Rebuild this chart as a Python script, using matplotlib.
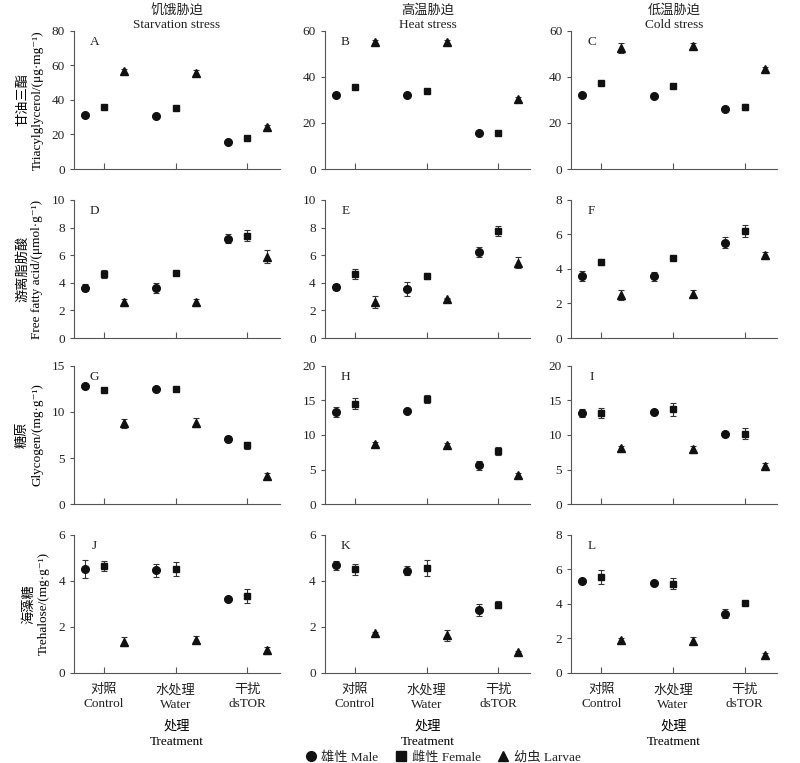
import matplotlib
matplotlib.use("Agg")
import matplotlib.pyplot as plt
from matplotlib.lines import Line2D
import numpy as np

plt.rcParams['font.family'] = ['Liberation Serif', 'Noto Sans CJK SC', 'DejaVu Serif']
plt.rcParams['font.size'] = 9
plt.rcParams['text.color'] = '#222222'
plt.rcParams['axes.edgecolor'] = '#555555'
plt.rcParams['xtick.color'] = '#555555'
plt.rcParams['ytick.color'] = '#555555'
plt.rcParams['xtick.labelcolor'] = '#222222'
plt.rcParams['ytick.labelcolor'] = '#222222'

groups = ['对照\nControl', '水处理\nWater', '干扰\ndsTOR']
stresses = ['饥饿胁迫\nStarvation stress', '高温胁迫\nHeat stress', '低温胁迫\nCold stress']
ylabels = ['甘油三酯\nTriacylglycerol/(μg·mg⁻¹)',
           '游离脂肪酸\nFree fatty acid/(μmol·g⁻¹)',
           '糖原\nGlycogen/(mg·g⁻¹)',
           '海藻糖\nTrehalose/(mg·g⁻¹)']
letters = ['A', 'B', 'C', 'D', 'E', 'F', 'G', 'H', 'I', 'J', 'K', 'L']
ymax = [80, 60, 60, 10, 10, 8, 15, 20, 20, 6, 6, 8]
ystep = [20, 20, 20, 2, 2, 2, 5, 5, 5, 2, 2, 2]

# means per panel: [control, water, dsTOR]
male = [[31.3, 30.6, 15.4], [32.3, 32.3, 15.6], [32.3, 31.9, 26.0],
        [3.63, 3.6, 7.2], [3.68, 3.55, 6.25], [3.6, 3.58, 5.53],
        [12.85, 12.48, 7.04], [13.33, 13.5, 5.6], [13.2, 13.3, 10.1],
        [4.52, 4.46, 3.2], [4.67, 4.44, 2.73], [5.33, 5.24, 3.43]]
male_err = [[0.8, 0.8, 0.7], [0.6, 0.6, 0.6], [0.8, 0.7, 0.9],
            [0.25, 0.35, 0.3], [0.2, 0.5, 0.35], [0.3, 0.25, 0.3],
            [0.2, 0.2, 0.35], [0.7, 0.2, 0.7], [0.6, 0.3, 0.2],
            [0.4, 0.27, 0.08], [0.2, 0.2, 0.25], [0.08, 0.1, 0.25]]
female = [[35.8, 35.2, 17.9], [35.7, 34.1, 15.6], [37.5, 36.0, 27.0],
          [4.65, 4.7, 7.4], [4.65, 4.5, 7.75], [4.4, 4.64, 6.2],
          [12.37, 12.48, 6.37], [14.5, 15.2, 7.7], [13.2, 13.7, 10.2],
          [4.65, 4.53, 3.35], [4.5, 4.55, 2.96], [5.57, 5.18, 4.08]]
female_err = [[0.8, 0.8, 0.8], [0.6, 0.6, 0.6], [0.8, 0.8, 1.3],
              [0.3, 0.1, 0.4], [0.35, 0.2, 0.35], [0.15, 0.05, 0.35],
              [0.2, 0.2, 0.4], [0.8, 0.6, 0.6], [0.7, 1.0, 0.8],
              [0.2, 0.3, 0.3], [0.25, 0.35, 0.15], [0.4, 0.3, 0.05]]
larvae = [[56.5, 55.6, 24.4], [55.1, 55.1, 30.4], [52.6, 53.6, 43.5],
          [2.6, 2.6, 5.9], [2.6, 2.85, 5.45], [2.5, 2.57, 4.78],
          [8.78, 8.85, 3.07], [8.64, 8.5, 4.25], [8.1, 7.95, 5.5],
          [1.35, 1.45, 0.98], [1.72, 1.63, 0.91], [1.9, 1.88, 1.04]]
larvae_err = [[1.5, 1.5, 1.0], [0.8, 0.8, 1.0], [2.0, 1.0, 0.8],
              [0.25, 0.25, 0.45], [0.45, 0.05, 0.4], [0.3, 0.2, 0.2],
              [0.5, 0.5, 0.25], [0.4, 0.3, 0.3], [0.3, 0.5, 0.4],
              [0.2, 0.15, 0.15], [0.05, 0.25, 0.05], [0.1, 0.2, 0.1]]

series = [('雄性 Male', 'o', -0.27, male, male_err),
          ('雌性 Female', 's', 0.0, female, female_err),
          ('幼虫 Larvae', '^', 0.28, larvae, larvae_err)]

fig = plt.figure(figsize=(8, 7.63), dpi=100)
lefts = [0.0925, 0.406, 0.714]
bottoms = [0.7785, 0.557, 0.3394, 0.118]
w, h = 0.257, 0.181

x = np.arange(3)
for i in range(12):
    r, c = divmod(i, 3)
    ax = fig.add_axes([lefts[c], bottoms[r], w, h])
    for name, mk, off, vals, errs in series:
        ax.errorbar(x + off, vals[i], yerr=errs[i], fmt=mk, color='#111111',
                    ms=5.5 if mk != 's' else 5, elinewidth=0.8, capsize=2.5,
                    capthick=0.8, ecolor='#333333')
    ax.set_xlim(-0.42, 2.45)
    ax.set_ylim(0, ymax[i])
    ax.set_yticks(np.arange(0, ymax[i] + 0.1, ystep[i]))
    ax.set_xticks(x)
    ax.tick_params(axis='x', direction='in', length=4, width=0.8, pad=8, labelsize=9.5)
    ax.tick_params(axis='y', direction='out', length=3, width=0.8, labelsize=9.5)
    ax.spines['top'].set_visible(False)
    ax.spines['right'].set_visible(False)
    ax.spines['left'].set_linewidth(0.8)
    ax.spines['bottom'].set_linewidth(0.8)
    ax.text(0.1, 0.92, letters[i], transform=ax.transAxes, ha='center', va='center', fontsize=9.5)
    if r == 0:
        ax.set_title(stresses[c], fontsize=9.5, pad=2, linespacing=1.25)
    if c == 0:
        ax.set_ylabel(ylabels[r], fontsize=9.5, labelpad=6, linespacing=1.25)
    if r == 3:
        ax.set_xticklabels(groups, linespacing=1.25)
        ax.set_xlabel('处理\nTreatment', fontsize=9.5, linespacing=1.3, labelpad=7)
    else:
        ax.set_xticklabels([])

handles = [Line2D([], [], ls='none', marker=mk, color='#111111', ms=7 if mk != 's' else 6.5)
           for name, mk, off, vals, errs in series]
fig.legend(handles=handles, labels=[s[0] for s in series], loc='lower center',
           bbox_to_anchor=(0.553, -0.017), ncol=3, frameon=False, fontsize=9.5,
           handletextpad=0.3, columnspacing=1.2, handlelength=1.0)

fig.savefig('out.png', dpi=100)
